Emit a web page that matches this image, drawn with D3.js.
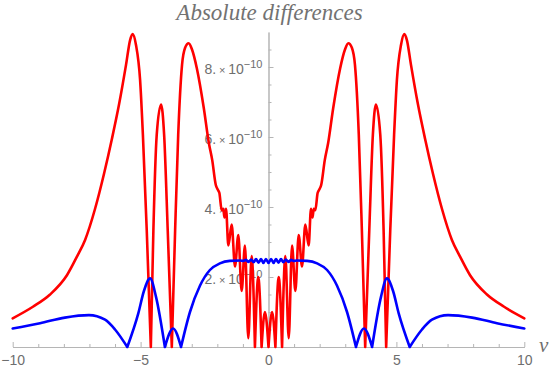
<!DOCTYPE html>
<html>
<head>
<meta charset="utf-8">
<script src="https://cdn.jsdelivr.net/npm/d3@7"></script>
<style>
  body { margin: 0; background: #fff; }
  .axis path, .axis line { stroke: #b5b5b5; }
</style>
</head>
<body>
<svg id="chart" width="552" height="374"></svg>
<script>
// values, in units of 10^-10
var redPoints = [
  [-10, 0.82], [-9.21, 1.15], [-8.54, 1.5], [-7.88, 2.05], [-7.49, 2.58], [-7.17, 3.06],
  [-6.78, 3.95], [-6.43, 4.95], [-6.12, 5.95], [-5.84, 6.94], [-5.57, 8.06], [-5.41, 8.77],
  [-5.31, 8.94], [-5.18, 8.63], [-5.02, 7.63], [-4.91, 6.06], [-4.76, 3.34], [-4.6, 0],
  [-4.5, 3.34], [-4.37, 6.06], [-4.2, 6.93], [-4.08, 6.06], [-3.94, 3.34], [-3.78, 0],
  [-3.65, 3.34], [-3.53, 6.06], [-3.38, 8.06], [-3.26, 8.55], [-3.12, 8.68], [-2.99, 8.5],
  [-2.8, 7.96], [-2.53, 6.83], [-2.33, 5.82], [-2.2, 5.34], [-2.06, 4.63], [-1.97, 4.48],
  [-1.92, 4.4], [-1.83, 3.91], [-1.77, 3.95], [-1.72, 3.7], [-1.66, 3.95], [-1.57, 2.9],
  [-1.44, 3.5], [-1.31, 2.3], [-1.18, 3.2], [-1.05, 1.6], [-0.92, 2.9], [-0.79, 0.25],
  [-0.66, 2.6], [-0.53, 0], [-0.4, 2.0], [-0.27, 0], [-0.14, 1.0], [0, 0],
  [0.14, 1.0], [0.27, 0], [0.4, 2.0], [0.53, 0], [0.66, 2.6], [0.79, 0.25],
  [0.92, 2.9], [1.05, 1.6], [1.18, 3.2], [1.31, 2.3], [1.44, 3.5], [1.57, 2.9],
  [1.66, 3.95], [1.72, 3.7], [1.77, 3.95], [1.83, 3.91], [1.92, 4.4], [1.97, 4.48],
  [2.06, 4.63], [2.2, 5.34], [2.33, 5.82], [2.53, 6.83], [2.8, 7.96], [2.99, 8.5],
  [3.12, 8.68], [3.26, 8.55], [3.38, 8.06], [3.53, 6.06], [3.65, 3.34], [3.78, 0],
  [3.94, 3.34], [4.08, 6.06], [4.2, 6.93], [4.37, 6.06], [4.5, 3.34], [4.6, 0],
  [4.76, 3.34], [4.91, 6.06], [5.02, 7.63], [5.18, 8.63], [5.31, 8.94], [5.41, 8.77],
  [5.57, 8.06], [5.84, 6.94], [6.12, 5.95], [6.43, 4.95], [6.78, 3.95], [7.17, 3.06],
  [7.49, 2.58], [7.88, 2.05], [8.54, 1.5], [9.21, 1.15], [10, 0.82]
];

var bluePoints = [
  [-10, 0.53], [-8.93, 0.68], [-7.96, 0.84], [-7.02, 0.91], [-6.39, 0.78], [-6.0, 0.5],
  [-5.52, 0], [-5.09, 0.96], [-4.87, 1.6], [-4.63, 1.96], [-4.4, 1.44], [-4.05, 0],
  [-3.73, 0.53], [-3.42, 0], [-3.07, 1.0], [-2.68, 1.75], [-2.29, 2.2], [-1.9, 2.39],
  [-1.51, 2.46], [-1.11, 2.47], [-0.98, 2.46], [-0.88, 2.49], [-0.78, 2.43], [-0.68, 2.5],
  [-0.58, 2.42], [-0.49, 2.51], [-0.39, 2.41], [-0.29, 2.51], [-0.2, 2.4], [-0.1, 2.51],
  [0, 2.4],
  [0.1, 2.51], [0.2, 2.4], [0.29, 2.51], [0.39, 2.41], [0.49, 2.51], [0.58, 2.42],
  [0.68, 2.5], [0.78, 2.43], [0.88, 2.49], [0.98, 2.46], [1.11, 2.47], [1.51, 2.46],
  [1.9, 2.39], [2.29, 2.2], [2.68, 1.75], [3.07, 1.0], [3.42, 0], [3.73, 0.53],
  [4.05, 0], [4.4, 1.44], [4.63, 1.96], [4.87, 1.6], [5.09, 0.96], [5.52, 0],
  [6.0, 0.5], [6.39, 0.78], [7.02, 0.91], [7.96, 0.84], [8.93, 0.68], [10, 0.53]
];

var xMajor = [-10, -5, 0, 5, 10];
var xLabels = ["\u221210", "\u22125", "0", "5", "10"];
var xMinor = [-9, -8, -7, -6, -4, -3, -2, -1, 1, 2, 3, 4, 6, 7, 8, 9];
var yMajor = [2, 4, 6, 8];
var yLabels = ["2.", "4.", "6.", "8."];
var yMinor = [0.5, 1, 1.5, 2.5, 3, 3.5, 4.5, 5, 5.5, 6.5, 7, 7.5, 8.5];

var svg = d3.select("#chart");

var x = d3.scaleLinear().domain([-10, 10]).range([12.7, 524.3]);
var y = d3.scaleLinear().domain([0, 9]).range([347, 32]);

// x axis, ticks pointing up
svg.append("g")
   .attr("class", "axis")
   .attr("transform", "translate(0," + y(0) + ")")
   .call(d3.axisBottom(x).tickValues(xMinor).tickSizeInner(-3).tickSizeOuter(0).tickFormat(""));

svg.append("g")
   .attr("class", "axis")
   .attr("transform", "translate(0," + y(0) + ")")
   .call(d3.axisBottom(x).tickValues(xMajor).tickSizeInner(-5).tickSizeOuter(0).tickPadding(8)
           .tickFormat(function(d, i) { return xLabels[i]; }))
   .call(function(g) {
     g.selectAll("text").attr("fill", "#6e6e6e").attr("font-size", "14px")
      .attr("font-family", "'Liberation Sans', Arial, sans-serif");
   });

// y axis at nu = 0, ticks pointing right
svg.append("g")
   .attr("class", "axis")
   .attr("transform", "translate(" + x(0) + ",0)")
   .call(d3.axisLeft(y).tickValues(yMinor).tickSizeInner(-3).tickSizeOuter(0).tickFormat(""));

var yAxis = svg.append("g")
   .attr("class", "axis")
   .attr("transform", "translate(" + x(0) + ",0)")
   .call(d3.axisLeft(y).tickValues(yMajor).tickSizeInner(-5).tickSizeOuter(0).tickFormat(""));

yAxis.selectAll(".tick").each(function(d, i) {
  var t = d3.select(this).append("text")
    .attr("x", -6)
    .attr("dy", "0.45em")
    .attr("text-anchor", "end")
    .attr("fill", "#6e6e6e")
    .attr("font-size", "14px")
    .attr("font-family", "'Liberation Sans', Arial, sans-serif");
  t.append("tspan").text(yLabels[i] + "\u2009");
  t.append("tspan").attr("font-size", "11px").text("\u00d7");
  t.append("tspan").text("\u200910");
  t.append("tspan").attr("font-size", "11px").attr("dy", "-0.55em").text("\u221210");
});

// curves: split at the zeros so the |f| cusps stay sharp
function pieces(points) {
  var out = [], cur = [];
  points.forEach(function(p) {
    cur.push(p);
    if (p[1] === 0 && cur.length > 1) { out.push(cur); cur = [p]; }
  });
  if (cur.length > 1) out.push(cur);
  return out;
}

var line = d3.line()
  .x(function(d) { return x(d[0]); })
  .y(function(d) { return y(d[1]); })
  .curve(d3.curveMonotoneX);

svg.append("path")
   .attr("d", pieces(redPoints).map(line).join(""))
   .attr("fill", "none")
   .attr("stroke", "#ff0000")
   .attr("stroke-width", 2.6)
   .attr("stroke-linejoin", "round")
   .attr("stroke-linecap", "round");

svg.append("path")
   .attr("d", pieces(bluePoints).map(line).join(""))
   .attr("fill", "none")
   .attr("stroke", "#0000ff")
   .attr("stroke-width", 2.6)
   .attr("stroke-linejoin", "round")
   .attr("stroke-linecap", "round");

// title and axis label
svg.append("text")
   .attr("x", x(0) + 1)
   .attr("y", 19.5)
   .attr("text-anchor", "middle")
   .attr("fill", "#727272")
   .attr("font-size", "23px")
   .attr("font-style", "italic")
   .attr("font-family", "'Liberation Serif', 'Times New Roman', serif")
   .text("Absolute differences");

svg.append("text")
   .attr("x", 539)
   .attr("y", 352)
   .attr("fill", "#6e6e6e")
   .attr("font-size", "21px")
   .attr("font-style", "italic")
   .attr("font-family", "'Liberation Serif', 'Times New Roman', serif")
   .text("\u03bd");
</script>
</body>
</html>
